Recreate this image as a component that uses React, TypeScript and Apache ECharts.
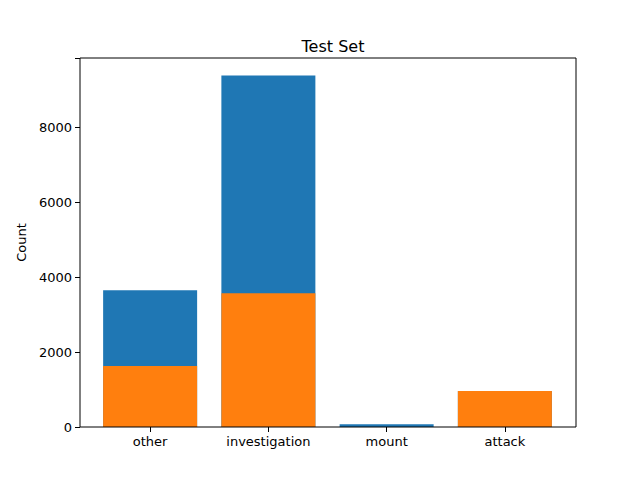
import React, { useEffect, useRef } from "react";
import * as echarts from "echarts";

const categories = ["other", "investigation", "mount", "attack"];
const totalValues = [3653, 9387, 75, 960];
const subsetValues = [1627, 3573, 0, 960];

export default function App() {
  const ref = useRef<HTMLDivElement>(null);
  useEffect(() => {
    const chart = echarts.init(ref.current!, undefined, { renderer: "svg" });
    chart.setOption({
      animation: false,
      textStyle: { fontFamily: "DejaVu Sans" },
      title: {
        text: "Test Set",
        left: 328,
        top: 33,
        textAlign: "center",
        textStyle: { fontSize: 16, fontWeight: "normal", color: "#000", fontFamily: "DejaVu Sans" },
      },
      grid: { left: 91, right: 76, top: 58, bottom: 53 },
      xAxis: {
        type: "category",
        data: categories,
        axisLine: { show: false },
        axisTick: { show: true, alignWithLabel: true, length: 5, lineStyle: { color: "#000" } },
        axisLabel: { color: "#000", fontSize: 13, margin: 8 },
      },
      yAxis: {
        type: "value",
        min: 0,
        max: 9856,
        interval: 2000,
        offset: 11,
        name: "Count",
        nameLocation: "middle",
        nameGap: 52,
        nameTextStyle: { color: "#000", fontSize: 13 },
        splitLine: { show: false },
        axisLine: { show: false },
        axisTick: { show: true, length: 5, lineStyle: { color: "#000" } },
        axisLabel: {
          color: "#000",
          fontSize: 13,
          formatter: (v: number) => (v % 2000 === 0 ? String(v) : ""),
        },
      },
      series: [
        { type: "bar", data: totalValues, barWidth: 94, barGap: "-100%", itemStyle: { color: "#1f77b4" } },
        { type: "bar", data: subsetValues, barWidth: 94, barGap: "-100%", itemStyle: { color: "#ff7f0e" } },
      ],
      graphic: [
        {
          type: "rect",
          shape: { x: 80, y: 58, width: 496, height: 369 },
          style: { fill: "none", stroke: "#000", lineWidth: 1 },
          z: 100,
        },
      ],
    });
    return () => chart.dispose();
  }, []);
  return <div ref={ref} style={{ width: 640, height: 480, margin: -8 }} />;
}
